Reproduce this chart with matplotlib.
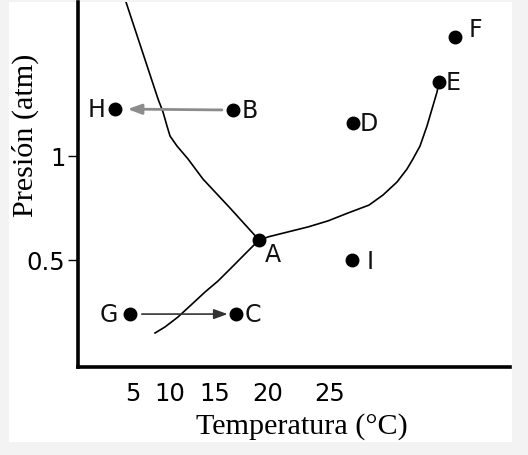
import matplotlib
matplotlib.use('Agg')
import matplotlib.pyplot as plt
from matplotlib.patches import Rectangle

# ---- data (temperature in °C, pressure in atm) ----
fusion_T = [4.66, 7.94, 8.43, 8.83, 9.13, 9.82, 10.91, 12.40, 15.08, 18.0]
fusion_P = [1.755, 1.274, 1.212, 1.144, 1.096, 1.048, 0.986, 0.889, 0.750, 0.594]

sublim_T = [7.64, 8.63, 9.92, 11.31, 12.60, 13.89, 15.28, 16.57, 17.56, 18.0]
sublim_P = [0.149, 0.178, 0.226, 0.288, 0.346, 0.399, 0.466, 0.529, 0.577, 0.594]

vapor_T = [18.0, 18.85, 20.83, 22.82, 24.80, 26.79, 28.87, 30.26, 31.65, 32.64,
           33.23, 33.93, 34.62, 35.12, 35.62, 35.81]
vapor_P = [0.594, 0.611, 0.635, 0.659, 0.688, 0.726, 0.764, 0.8125, 0.875, 0.9375,
           0.986, 1.048, 1.144, 1.226, 1.308, 1.356]

point_names = ['A', 'B', 'C', 'D', 'E', 'F', 'G', 'H', 'I']
point_T = [18.0, 15.38, 15.67, 27.28, 35.81, 37.40, 5.16, 3.67, 27.18]
point_P = [0.594, 1.221, 0.240, 1.159, 1.356, 1.572, 0.240, 1.226, 0.500]

xtick_pos = [5.46, 9.13, 13.6, 18.8, 25.0]
xtick_labels = ['5', '10', '15', '20', '25']
ytick_pos = [0.5, 1.0]
ytick_labels = ['0.5', '1']

# label offsets (points) relative to each dot
label_offsets = {'A': (9.5, -9.5), 'B': (12, 0), 'C': (12, 0), 'D': (11, 0),
                 'E': (10, 0), 'F': (15, 5.5), 'G': (-15, 0), 'H': (-13.5, 0),
                 'I': (13, -0.5)}

fig = plt.figure(figsize=(5.28, 4.56), dpi=100)
fig.patch.set_facecolor('#f3f3f3')
fig.add_artist(Rectangle((9/528, 1-443/456), (512-9)/528, (443-3)/456,
                         transform=fig.transFigure, facecolor='white',
                         edgecolor='none', zorder=-10))

ax = fig.add_axes([78/528, 1-368/456, (510-78)/528, (368-3)/456])
ax.set_facecolor('white')
ax.set_xlim(0, 432/10.08)
ax.set_ylim(-3/208, 362/208)

for s in ['top', 'right']:
    ax.spines[s].set_visible(False)
for s in ['left', 'bottom']:
    ax.spines[s].set_linewidth(2.6)
    ax.spines[s].set_color('black')

ax.plot(fusion_T, fusion_P, color='black', lw=1.2, solid_joinstyle='round')
ax.plot(sublim_T, sublim_P, color='black', lw=1.2, solid_joinstyle='round')
ax.plot(vapor_T, vapor_P, color='black', lw=1.2, solid_joinstyle='round')

ax.plot(point_T, point_P, 'o', color='black', ms=9, zorder=5)

idx = {n: i for i, n in enumerate(point_names)}
for n in point_names:
    i = idx[n]
    ax.annotate(n, (point_T[i], point_P[i]), xytext=label_offsets[n],
                textcoords='offset points', ha='center', va='center',
                fontsize=17, family='DejaVu Sans', color='#111111')

# arrows B -> H and G -> C
ax.annotate('', xy=(point_T[idx['H']], point_P[idx['H']]),
            xytext=(point_T[idx['B']], point_P[idx['B']]),
            arrowprops=dict(arrowstyle='-|>,head_length=0.55,head_width=0.2',
                            color='#8c8c8c', lw=2.0, shrinkA=8, shrinkB=9,
                            mutation_scale=15))
ax.annotate('', xy=(point_T[idx['C']], point_P[idx['C']]),
            xytext=(point_T[idx['G']], point_P[idx['G']]),
            arrowprops=dict(arrowstyle='-|>,head_length=0.55,head_width=0.2',
                            color='#333333', lw=1.2, shrinkA=8.5, shrinkB=6,
                            mutation_scale=15))

ax.set_xticks(xtick_pos)
ax.set_xticklabels(xtick_labels, fontsize=17.5, family='DejaVu Sans')
ax.tick_params(axis='x', which='major', length=0, pad=10)
ax.set_xticks([25.0], minor=True)
ax.tick_params(axis='x', which='minor', length=7, width=1.0, direction='out')

ax.set_yticks(ytick_pos)
ax.set_yticklabels(ytick_labels, fontsize=17.5, family='DejaVu Sans')
ax.tick_params(axis='y', which='major', length=7, width=1.0, pad=2)

ax.set_xlabel('Temperatura (°C)', fontsize=21.7, family='Liberation Serif', va='center')
ax.xaxis.set_label_coords((302-78)/432, (368-427)/365)
ax.set_ylabel('Presión (atm)', fontsize=21.7, family='Liberation Serif', va='center')
ax.yaxis.set_label_coords((25-78)/432, (368-135)/365)

fig.savefig('out.png', dpi=100, facecolor=fig.get_facecolor())
